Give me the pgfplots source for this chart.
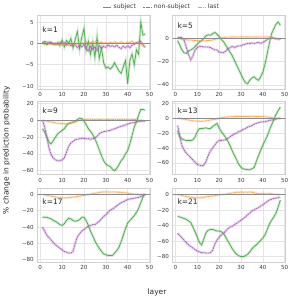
\documentclass[border=0pt]{standalone}
\usepackage{fontspec}
\setmainfont{DejaVu Sans}
\usepackage{pgfplots}
\usepackage{pgfplotstable}
\pgfplotsset{compat=1.18}
\definecolor{cs}{HTML}{4FAF4F}
\definecolor{cn}{HTML}{A861B8}
\definecolor{cl}{HTML}{F5A24C}
\definecolor{gridc}{HTML}{E4E4E4}
\definecolor{framec}{HTML}{D0D0D0}
\definecolor{tickc}{HTML}{3A3A3A}
\definecolor{zeroc}{HTML}{8C8C8C}

\pgfplotstableread{
L s n l
1 0 0.2 0
2 0.2 0.5 -0.2
3 -0.3 0.3 0.1
4 0.1 0.4 -0.1
5 0.3 0.2 -0.2
6 -0.2 0 0
7 -0.3 0.1 -0.3
8 0.2 -0.2 -0.1
9 -0.5 0.3 -0.2
10 0.8 -0.1 -0.3
11 -0.8 0.2 -0.2
12 0.7 -0.3 -0.4
13 0 0 -0.3
14 1.2 -0.5 -0.2
15 -1 -0.2 -0.1
16 1.0 -0.3 -0.2
17 2.8 -1 0
18 -1.2 -0.4 -0.1
19 1.5 -0.8 0.1
20 3.5 -0.2 0
21 -1.5 -1.2 0.2
22 0.5 -1.8 0.1
23 -2.5 -0.6 0.3
24 0.2 -1.3 0.2
25 -3.2 -0.8 0.4
26 1.5 -1.6 0.5
27 -3.5 -0.5 0.2
28 -1 -1.2 0.3
29 -4.5 -0.6 0.1
30 -5.8 -0.9 0.2
31 -5.5 -0.3 0
32 -6 -0.7 0.3
33 -5.5 -0.5 0.1
34 -4.5 -0.8 0.4
35 -5.5 -0.4 0.2
36 -6.5 -0.9 0.1
37 -7 -1.2 0.4
38 -5.5 -0.6 0.2
39 -4 -1.0 0.1
40 -9.5 -0.5 0.3
41 -4 -1.0 0.2
42 -2.5 -0.4 0.5
43 -5 -0.2 0.2
44 -1.5 0.2 0.1
45 -2.5 0.3 0.2
46 5 0.5 0
47 2 -0.3 -0.5
48 2.3 -0.9 -0.8
}\tkone

\pgfplotstableread{
L s n l
1 -2 0.5 0
2 -6 0.8 -0.5
3 -10 0.5 -0.8
4 -12.5 -2 -1
5 -13 -8 -1.2
6 -11 -14 -1.5
7 -10 -18.5 -1.5
8 -9 -15 -1.8
9 -7 -10 -2
10 -5 -8 -2
11 -3 -7 -2.2
12 -2 -7 -2.3
13 0 -7.5 -2.2
14 2 -7.5 -2
15 3 -7.5 -2
16 2.5 -8 -1.8
17 4 -9 -1.5
18 5 -10 -1
19 3.5 -10 -0.5
20 1.5 -12 0
21 -1 -12 0.3
22 -3 -12.5 0.5
23 -6 -11 0.8
24 -9 -9 1
25 -12 -8 1
26 -15 -7 1.1
27 -19 -8 1.2
28 -23 -7 1.1
29 -27 -6.5 1
30 -31 -6.5 1.2
31 -35 -5.5 1.1
32 -38 -5 1
33 -39 -4.5 1.2
34 -36 -4.5 1.1
35 -34 -4 1
36 -33 -4.5 1.2
37 -35 -4 1.1
38 -36 -3.5 1
39 -33 -4.5 1.2
40 -29 -3.5 1.1
41 -22 -2.5 1
42 -13 -1 1.1
43 -4 0 1
44 4 0.5 0.9
45 8 0 0.5
46 12 -0.5 -0.2
47 14 -0.5 -0.8
48 11 -1 -1
}\tkfive

\pgfplotstableread{
L s n l
1 -10 0 0
2 -14 -8 -0.5
3 -20 -20 -1
4 -26 -33 -1.5
5 -28 -41 -2
6 -24 -45 -2.5
7 -20 -47 -3
8 -16 -48 -3.5
9 -14 -48 -3.5
10 -12 -47 -4
11 -10 -45 -4
12 -6 -38 -4
13 -4 -31 -3.5
14 -3 -27 -3
15 -2.5 -25 -2.5
16 -1 -23 -2
17 1 -22.5 -1
18 2.5 -22 0
19 2 -21.5 0.5
20 -1 -21.5 1
21 -5 -22 1
22 -10 -22 1.2
23 -13 -22.5 1.2
24 -17 -22 1
25 -22 -21 1
26 -28 -19 1.2
27 -35 -16 1
28 -42 -14.5 1
29 -48 -13.5 1.2
30 -52 -13 1
31 -54 -12.5 1
32 -55 -12 1.2
33 -58 -11 1
34 -60 -10 1
35 -57 -9 1.2
36 -53 -8 1
37 -48 -7 1
38 -45 -6.5 1.2
39 -40 -5.5 1
40 -36 -4.5 1
41 -28 -3.5 1.2
42 -18 -3 1
43 -8 -2.5 1
44 -2 -2 0.8
45 6 -1.5 0.5
46 13 -1 0
47 13 -1 -0.5
48 12 -1 -1
}\tknine

\pgfplotstableread{
L s n l
1 -17 -10 0
2 -25 -25 -0.5
3 -28 -37 -1
4 -29 -43 -1.5
5 -30 -47 -2
6 -30 -50 -2.5
7 -30 -53 -3
8 -29 -56 -3.5
9 -25 -59 -3.8
10 -18 -62 -4
11 -14 -63 -4
12 -14 -64 -4
13 -13.5 -63 -3.8
14 -13 -58 -3.5
15 -14 -50 -3
16 -14 -44 -2.5
17 -11 -40 -2
18 -9 -36 -1.5
19 -7 -32 -1
20 -13 -30 0
21 -18 -30 0.5
22 -22 -29.5 1
23 -26 -29 1.5
24 -31 -27 1.8
25 -37 -25 2
26 -44 -23 2
27 -50 -21 2.2
28 -56 -20 2.3
29 -62 -18 2.3
30 -66 -17 2.3
31 -68 -15 2.2
32 -68.5 -14 2.3
33 -69 -12 2.3
34 -69 -11 2.2
35 -68 -10 2.3
36 -66 -8 2.3
37 -58 -7 2.2
38 -50 -6 2.3
39 -43 -5 2.3
40 -36 -5 2.2
41 -30 -4.5 2
42 -24 -4 1.5
43 -16 -3 1
44 -9 -2.5 0.5
45 -2 -2 0.3
46 5 -1.5 0
47 10 -0.5 0
48 15 0 0
}\tkthirteen

\pgfplotstableread{
L s n l
1 -28 -40 0
2 -28 -45 -0.5
3 -28 -50 -1
4 -29 -53 -1.5
5 -30 -56 -2
6 -32 -59 -2.5
7 -33 -62 -3
8 -35 -64 -3.5
9 -37 -66 -4
10 -38 -68 -4
11 -36 -70 -4.2
12 -32 -71 -4
13 -29 -72 -3.8
14 -30 -72 -3.5
15 -32 -70 -3.2
16 -33 -60 -3
17 -32 -52 -2.5
18 -31 -48 -2
19 -28 -45 -1.5
20 -28 -43 -1
21 -32 -41 -0.5
22 -38 -39 0
23 -45 -38 0.5
24 -51 -37 1
25 -57 -37 1.5
26 -62 -35 2
27 -66 -33 2.5
28 -70 -30 3
29 -73 -27 3
30 -74 -25 3.2
31 -75 -22 3
32 -75 -19 3
33 -75 -18 3.2
34 -72 -16 3
35 -69 -14 3
36 -65 -12 2.8
37 -58 -10 2.5
38 -50 -9 2.5
39 -42 -7.5 2
40 -35 -6 1.5
41 -32 -5.5 1
42 -29 -5 0.8
43 -26 -4.5 0.5
44 -22 -4 0.3
45 -17 -3.5 0
46 -10 -2.5 0
47 -3 -1.5 0
48 1 0 0
}\tkseventeen

\pgfplotstableread{
L s n l
1 -28 -50 0
2 -29 -53 -0.5
3 -30 -56 -1.2
4 -31 -59 -2
5 -32 -62 -2.5
6 -34 -65 -3
7 -36 -67 -3.5
8 -42 -69 -4
9 -48 -71 -4
10 -55 -73 -4.2
11 -62 -74 -4.2
12 -65 -75 -4
13 -57 -75 -3.5
14 -49 -75.5 -3
15 -46 -75.5 -2.5
16 -45 -75 -2
17 -45 -72 -1.8
18 -46 -64 -1.5
19 -47 -59 -1
20 -47 -55 -0.5
21 -48 -52 0
22 -50 -50 0.3
23 -55 -47 0.6
24 -60 -44 1
25 -65 -42 1.5
26 -70 -41 2
27 -74 -39 2.5
28 -77 -37 3
29 -79 -35 3
30 -80 -33 3.2
31 -80 -31 3
32 -79 -29 3.2
33 -77 -26 3
34 -74 -24 3.2
35 -70 -21 3
36 -67 -20 2.5
37 -65 -18 1.5
38 -62 -17 1
39 -59 -15 1
40 -56 -13 1.2
41 -52 -11 1
42 -45 -9 1
43 -38 -7 1
44 -33 -6 1
45 -29 -5 0.5
46 -24 -4.5 0.3
47 -16 -4 0
48 -7 -3.5 0
}\tktwentyone

\pgfplotsset{
  panel/.style={
    scale only axis, width=113bp, height=73.5bp, anchor=south west,
    xmin=-1.35, xmax=50.35, xtick={0,10,20,30,40,50},
    xmajorgrids, ymajorgrids,
    major grid style={gridc, line width=0.6pt},
    axis line style={framec, line width=0.8pt},
    major tick length=0pt,
    ticklabel style={font=\fontsize{5.6}{6.5}\selectfont, text=tickc},
    /pgf/number format/assume math mode=true,
    clip=true,
  },
  band/.style={forget plot, line width=2.6pt, opacity=0.25, draw=#1},
  lnS/.style={cs, line width=0.75pt},
  lnN/.style={cn, line width=0.75pt, dash pattern=on 1.8pt off 0.7pt},
  lnL/.style={cl, line width=0.75pt, dash pattern=on 1.2pt off 0.6pt},
}
\newcommand{\series}[1]{%
  \addplot[band=cs] table[x=L,y=s]{#1};
  \addplot[band=cn] table[x=L,y=n]{#1};
  \addplot[band=cl] table[x=L,y=l]{#1};
  \addplot[lnS] table[x=L,y=s]{#1};
  \addplot[lnN] table[x=L,y=n]{#1};
  \addplot[lnL] table[x=L,y=l]{#1};
  \addplot[zeroc, line width=0.8pt, forget plot] coordinates {(-5,0) (55,0)};
}
\newcommand{\klabel}[2]{\node[anchor=north west, font=\fontsize{7.5}{9}\selectfont, text=black!85, inner sep=1pt] at (rel axis cs:0.035,#2) {#1};}

\begin{document}
\begin{tikzpicture}
\path[use as bounding box] (0,0) rectangle (293bp,301bp);

\begin{axis}[panel, at={(37.3bp,212bp)}, ymin=-10.7, ymax=6.6,
  ytick={-10,-5,0,5}, yticklabels={−10,−5,0,5},
  legend columns=3,
  legend style={draw=none, fill=none, at={(1.103,1.116)}, anchor=center,
    font=\fontsize{6.2}{7}\selectfont, text=tickc,
    /tikz/every even column/.append style={column sep=5pt}},
  legend image code/.code={\draw[#1, line width=0.9pt] (0bp,0bp) -- (8bp,0bp);},
  ]
\series{\tkone}
\legend{subject, non-subject, last}
\klabel{k=1}{0.86}
\end{axis}

\begin{axis}[panel, at={(172.5bp,212bp)}, ymin=-43.5, ymax=19.5,
  ytick={-40,-20,0}, yticklabels={−40,−20,0}]
\series{\tkfive}
\klabel{k=5}{0.91}
\end{axis}

\begin{axis}[panel, at={(37.3bp,126.5bp)}, ymin=-64.5, ymax=23,
  ytick={-60,-40,-20,0,20}, yticklabels={−60,−40,−20,0,20}]
\series{\tknine}
\klabel{k=9}{0.93}
\end{axis}

\begin{axis}[panel, at={(172.5bp,126.5bp)}, ymin=-75.5, ymax=23,
  ytick={-60,-40,-20,0,20}, yticklabels={−60,−40,−20,0,20}]
\series{\tkthirteen}
\klabel{k=13}{0.93}
\end{axis}

\begin{axis}[panel, at={(37.3bp,39bp)}, ymin=-83, ymax=7.4,
  ytick={-80,-60,-40,-20,0}, yticklabels={−80,−60,−40,−20,0}]
\series{\tkseventeen}
\klabel{k=17}{0.87}
\end{axis}

\begin{axis}[panel, at={(172.5bp,39bp)}, ymin=-87, ymax=7.8,
  ytick={-80,-60,-40,-20,0}, yticklabels={−80,−60,−40,−20,0}]
\series{\tktwentyone}
\klabel{k=21}{0.87}
\end{axis}

\node[rotate=90, font=\fontsize{7.5}{9}\selectfont, text=black!85] at (6.5bp,151bp) {\% change in prediction probability};
\node[font=\fontsize{7.5}{9}\selectfont, text=black!85] at (157bp,9bp) {layer};
\end{tikzpicture}
\end{document}
